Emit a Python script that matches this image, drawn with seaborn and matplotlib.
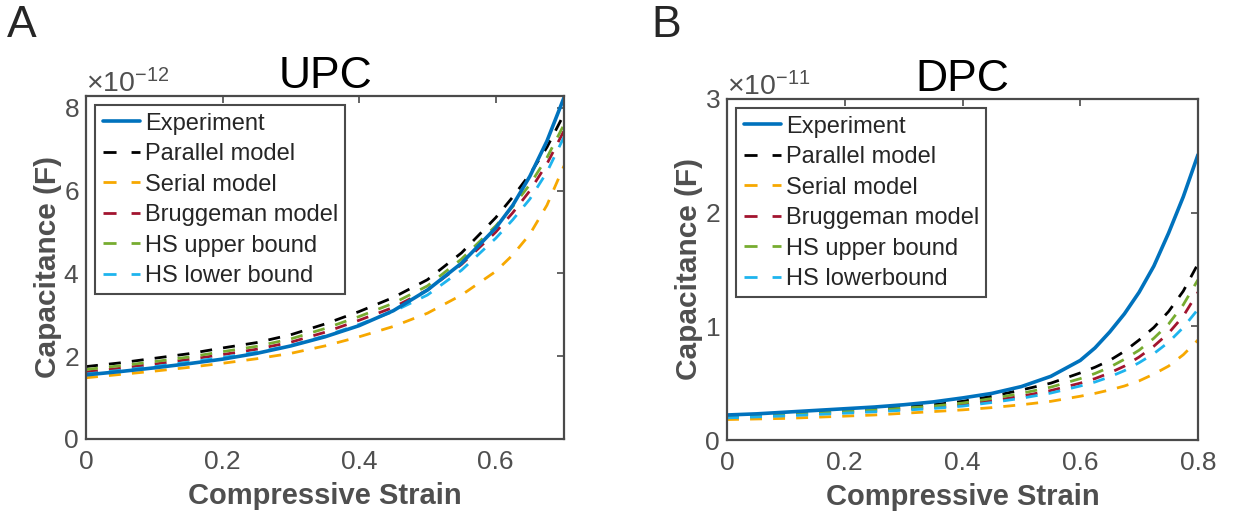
import numpy as np
import pandas as pd
import matplotlib
matplotlib.use("Agg")
import matplotlib.pyplot as plt
from matplotlib.lines import Line2D
from matplotlib.ticker import ScalarFormatter
import seaborn as sns

# ---------------- data ----------------
models = ["Experiment", "Parallel model", "Serial model", "Bruggeman model",
          "HS upper bound", "HS lower bound"]
models_b = ["Experiment", "Parallel model", "Serial model", "Bruggeman model",
            "HS upper bound", "HS lowerbound"]

# UPC: compressive strain 0 .. 0.7, capacitance in units of 1e-12 F
strain_upc = [0.00, 0.05, 0.10, 0.15, 0.20, 0.25, 0.30, 0.35, 0.40,
              0.45, 0.50, 0.55, 0.60, 0.625, 0.65, 0.675, 0.70]
upc_experiment = [1.55, 1.63, 1.72, 1.82, 1.93, 2.07, 2.25, 2.47, 2.74,
                  3.10, 3.60, 4.25, 5.10, 5.65, 6.35, 7.20, 8.25]
upc_parallel = [1.75, 1.84, 1.95, 2.06, 2.20, 2.33, 2.52, 2.78, 3.08,
                3.42, 3.85, 4.50, 5.35, 5.85, 6.40, 7.05, 7.85]
upc_serial = [1.48, 1.56, 1.64, 1.73, 1.83, 1.94, 2.07, 2.25, 2.47,
              2.72, 3.04, 3.48, 4.05, 4.45, 4.95, 5.65, 6.60]
upc_bruggeman = [1.62, 1.71, 1.81, 1.92, 2.04, 2.17, 2.34, 2.58, 2.87,
                 3.18, 3.60, 4.22, 5.00, 5.47, 6.00, 6.65, 7.45]
upc_hs_upper = [1.68, 1.77, 1.87, 1.98, 2.11, 2.24, 2.42, 2.67, 2.96,
                3.28, 3.70, 4.35, 5.15, 5.62, 6.15, 6.80, 7.60]
upc_hs_lower = [1.57, 1.66, 1.75, 1.86, 1.97, 2.10, 2.26, 2.49, 2.77,
                3.08, 3.48, 4.08, 4.85, 5.30, 5.80, 6.45, 7.30]

# DPC: compressive strain 0 .. 0.8, capacitance in units of 1e-11 F
strain_dpc = [0.00, 0.05, 0.10, 0.15, 0.20, 0.25, 0.30, 0.35, 0.40, 0.45,
              0.50, 0.55, 0.60, 0.625, 0.65, 0.675, 0.70, 0.725, 0.75,
              0.775, 0.80]
dpc_experiment = [0.220, 0.230, 0.245, 0.260, 0.275, 0.290, 0.310, 0.335,
                  0.370, 0.410, 0.470, 0.560, 0.700, 0.810, 0.950, 1.110,
                  1.300, 1.530, 1.820, 2.140, 2.510]
dpc_parallel = [0.210, 0.220, 0.230, 0.245, 0.260, 0.275, 0.290, 0.310,
                0.340, 0.385, 0.440, 0.500, 0.590, 0.640, 0.700, 0.780,
                0.880, 0.990, 1.130, 1.310, 1.550]
dpc_serial = [0.180, 0.185, 0.190, 0.200, 0.210, 0.220, 0.235, 0.250,
              0.265, 0.285, 0.310, 0.340, 0.385, 0.410, 0.440, 0.475,
              0.520, 0.580, 0.650, 0.750, 0.880]
dpc_bruggeman = [0.200, 0.208, 0.218, 0.230, 0.243, 0.256, 0.270, 0.286,
                 0.310, 0.345, 0.385, 0.435, 0.500, 0.540, 0.590, 0.650,
                 0.730, 0.825, 0.940, 1.090, 1.300]
dpc_hs_upper = [0.205, 0.215, 0.225, 0.238, 0.252, 0.266, 0.280, 0.298,
                0.325, 0.365, 0.410, 0.465, 0.540, 0.585, 0.640, 0.710,
                0.790, 0.895, 1.020, 1.190, 1.410]
dpc_hs_lower = [0.195, 0.203, 0.212, 0.224, 0.236, 0.248, 0.262, 0.277,
                0.298, 0.330, 0.367, 0.413, 0.475, 0.510, 0.555, 0.610,
                0.680, 0.760, 0.860, 0.990, 1.150]

xticks_upc = [0, 0.2, 0.4, 0.6]
xticklabels_upc = ["0", "0.2", "0.4", "0.6"]
xticks_dpc = [0, 0.2, 0.4, 0.6, 0.8]
xticklabels_dpc = ["0", "0.2", "0.4", "0.6", "0.8"]
yticks_upc = [0, 2e-12, 4e-12, 6e-12, 8e-12]
yticks_dpc = [0, 1e-11, 2e-11, 3e-11]

colors = ["#0072BD", "#000000", "#F7A800", "#A2142F", "#77AC30", "#1EB4EE"]

# ---------------- style ----------------
sns.set_style("white")
plt.rcParams["font.family"] = ["Liberation Sans", "DejaVu Sans"]
plt.rcParams["mathtext.fontset"] = "custom"
plt.rcParams["mathtext.rm"] = "Liberation Sans"

GRAY = "#4a4a4a"
TXT_GRAY = "#4f4f4f"
DASH = (4.3, 4.0)
LW_MODEL = 2.0
LW_EXP = 2.6


def long_frame(strain, series, scale, names):
    rows = []
    for name, vals in zip(names, series):
        for s, v in zip(strain, vals):
            rows.append({"strain": s, "capacitance": v * scale, "model": name})
    return pd.DataFrame(rows)


def draw_panel(ax, df, names, title, xticks, xticklabels, yticks, xlim, ylim):
    pal = dict(zip(names, colors))
    models_df = df[df["model"] != names[0]]
    sns.lineplot(data=models_df, x="strain", y="capacitance", hue="model",
                 palette={k: pal[k] for k in names[1:]}, hue_order=names[1:],
                 linewidth=LW_MODEL, legend=False, ax=ax, sort=True,
                 estimator=None)
    for line in ax.get_lines():
        line.set_dashes(DASH)
    exp_df = df[df["model"] == names[0]]
    sns.lineplot(data=exp_df, x="strain", y="capacitance", color=pal[names[0]],
                 linewidth=LW_EXP, legend=False, ax=ax, estimator=None)

    ax.set_xlim(*xlim)
    ax.set_ylim(*ylim)
    ax.set_xticks(xticks)
    ax.set_xticklabels(xticklabels)
    ax.set_yticks(yticks)
    fmt = ScalarFormatter(useMathText=True)
    fmt.set_powerlimits((0, 0))
    ax.yaxis.set_major_formatter(fmt)
    off = ax.yaxis.get_offset_text()
    off.set_fontsize(20.5)
    off.set_color(TXT_GRAY)

    ax.tick_params(axis="both", which="both", direction="in", length=5,
                   width=1.2, color=GRAY, labelsize=19, labelcolor=TXT_GRAY,
                   top=True, right=True)
    ax.tick_params(axis="x", pad=8)
    ax.tick_params(axis="y", pad=5)
    for sp in ax.spines.values():
        sp.set_visible(True)
        sp.set_color(GRAY)
        sp.set_linewidth(1.6)

    ax.set_xlabel("Compressive Strain", fontsize=21, fontweight="bold",
                  color=TXT_GRAY, labelpad=6)
    ax.set_ylabel("Capacitance (F)", fontsize=21.5, fontweight="bold",
                  color=TXT_GRAY, labelpad=1)
    ax.set_title(title, fontsize=32, color="black", pad=6)

    handles = []
    for i, name in enumerate(names):
        if i == 0:
            h = Line2D([], [], color=pal[name], lw=LW_EXP)
        else:
            h = Line2D([], [], color=pal[name], lw=LW_MODEL, dashes=(4.7, 5.4))
        handles.append(h)
    leg = ax.legend(handles, names, loc="upper left", fontsize=17,
                    frameon=True, fancybox=False, framealpha=1,
                    edgecolor=GRAY, borderaxespad=0.4, borderpad=0.3,
                    labelspacing=0.36, handlelength=1.6, handletextpad=0.2)
    leg.get_frame().set_linewidth(1.5)


fig = plt.figure(figsize=(12.38, 5.22), dpi=100)
axA = fig.add_axes([86 / 1238, 83 / 522, 478 / 1238, 343 / 522])
axB = fig.add_axes([727 / 1238, 82 / 522, 471 / 1238, 341 / 522])

dfA = long_frame(strain_upc, [upc_experiment, upc_parallel, upc_serial,
                              upc_bruggeman, upc_hs_upper, upc_hs_lower],
                 1e-12, models)
dfB = long_frame(strain_dpc, [dpc_experiment, dpc_parallel, dpc_serial,
                              dpc_bruggeman, dpc_hs_upper, dpc_hs_lower],
                 1e-11, models_b)

draw_panel(axA, dfA, models, "UPC", xticks_upc, xticklabels_upc, yticks_upc,
           (0, 0.7), (0, 8.29e-12))
draw_panel(axB, dfB, models_b, "DPC", xticks_dpc, xticklabels_dpc, yticks_dpc,
           (0, 0.8), (0, 3e-11))

fig.text(7 / 1238, 1 - 37 / 522, "A", fontsize=32, va="baseline", ha="left")
fig.text(651 / 1238, 1 - 37 / 522, "B", fontsize=32, va="baseline", ha="left")

fig.savefig("out.png", dpi=100)
